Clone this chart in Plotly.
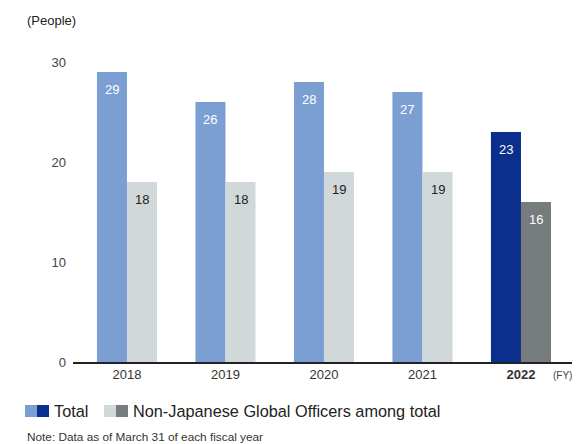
import plotly.graph_objects as go

years = ["2018", "2019", "2020", "2021", "2022"]
total = [29, 26, 28, 27, 23]
non_japanese = [18, 18, 19, 19, 16]
total_colors = ["#7b9fd3", "#7b9fd3", "#7b9fd3", "#7b9fd3", "#0b2f8d"]
nj_colors = ["#d0d8da", "#d0d8da", "#d0d8da", "#d0d8da", "#767b7e"]
total_text_colors = ["#ffffff"] * 5
nj_text_colors = ["#222222", "#222222", "#222222", "#222222", "#ffffff"]
tick_labels = ["2018", "2019", "2020", "2021", "<b>2022</b>"]
y_ticks = [0, 10, 20, 30]

W, H = 582, 444
L, R, T, B = 73, 10, 62, 82
pw, ph = W - L - R, H - T - B

def px2x(px):
    return (px - L) / pw

def px2y(py):
    return (H - B - py) / ph

bargap = 0.39
xs = list(range(len(years)))

fig = go.Figure()
fig.add_trace(go.Bar(x=xs, y=total, marker=dict(color=total_colors, line=dict(width=0)),
                     name="Total", hoverinfo="y"))
fig.add_trace(go.Bar(x=xs, y=non_japanese, marker=dict(color=nj_colors, line=dict(width=0)),
                     name="Non-Japanese Global Officers among total", hoverinfo="y"))

off = (1 - bargap) / 4
annotations = []
for i, (a, b) in enumerate(zip(total, non_japanese)):
    annotations.append(dict(x=i - off, y=a, xref="x", yref="y", text=str(a), showarrow=False,
                            yanchor="top", yshift=-8,
                            font=dict(size=13, color=total_text_colors[i], family="Liberation Sans, Arial")))
    annotations.append(dict(x=i + off, y=b, xref="x", yref="y", text=str(b), showarrow=False,
                            yanchor="top", yshift=-8,
                            font=dict(size=13, color=nj_text_colors[i], family="Liberation Sans, Arial")))

# axis unit/title annotations
annotations.append(dict(x=px2x(25), y=px2y(20), xref="paper", yref="paper", text="(People)",
                        showarrow=False, xanchor="left", yanchor="middle",
                        font=dict(size=13, color="#222222")))
annotations.append(dict(x=px2x(562), y=px2y(375), xref="paper", yref="paper", text="(FY)",
                        showarrow=False, xanchor="center", yanchor="middle",
                        font=dict(size=10, color="#444444")))

# custom legend
shapes = []
legend_items = [
    (total_colors[0], total_colors[4], "Total", 25),
    (nj_colors[0], nj_colors[4], "Non-Japanese Global Officers among total", 104),
]
for c1, c2, label, x0 in legend_items:
    shapes.append(dict(type="rect", xref="paper", yref="paper", x0=px2x(x0), x1=px2x(x0 + 12),
                       y0=px2y(417), y1=px2y(405), fillcolor=c1, line=dict(width=0)))
    shapes.append(dict(type="rect", xref="paper", yref="paper", x0=px2x(x0 + 12), x1=px2x(x0 + 24),
                       y0=px2y(417), y1=px2y(405), fillcolor=c2, line=dict(width=0)))
    annotations.append(dict(x=px2x(x0 + 27), y=px2y(411), xref="paper", yref="paper", text=label,
                            showarrow=False, xanchor="left", yanchor="middle",
                            font=dict(size=16.3, color="#222222")))

annotations.append(dict(x=px2x(25), y=px2y(437), xref="paper", yref="paper",
                        text="Note: Data as of March 31 of each fiscal year",
                        showarrow=False, xanchor="left", yanchor="middle",
                        font=dict(size=11.8, color="#333333")))

fig.update_layout(
    width=W, height=H,
    margin=dict(l=L, r=R, t=T, b=B, pad=0),
    paper_bgcolor="white", plot_bgcolor="white",
    barmode="group", bargap=bargap, bargroupgap=0,
    showlegend=False,
    font=dict(family="Liberation Sans, Arial", size=13, color="#444444"),
    xaxis=dict(tickmode="array", tickvals=xs, ticktext=tick_labels, range=[-0.548, 4.518],
               showline=True, linecolor="#222222", linewidth=1.5, showgrid=False, zeroline=False,
               ticks="", tickfont=dict(size=13, color="#333333"), fixedrange=True),
    yaxis=dict(range=[0, 30], tickvals=y_ticks, showgrid=False, zeroline=False, showline=False,
               ticks="", ticklabelstandoff=6, tickfont=dict(size=13, color="#444444"), fixedrange=True),
    annotations=annotations,
    shapes=shapes,
)

fig.write_html("out.html")
